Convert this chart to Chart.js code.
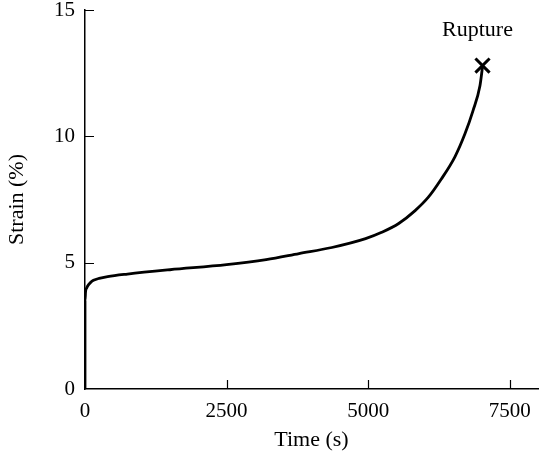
<!DOCTYPE html>
<html>
<head>
<meta charset="utf-8">
<script src="https://cdn.jsdelivr.net/npm/chart.js@4.4.1/dist/chart.umd.min.js"></script>
<style>
  html, body { margin: 0; padding: 0; background: #fff; }
  #wrap { width: 540px; height: 456px; position: relative; }
</style>
</head>
<body>
<div id="wrap"><canvas id="creep"></canvas></div>
<script>
/* creep curve */
var timeS   = [0, 0, 10, 30, 60, 100, 150, 250, 400, 750, 1500, 2500, 3200, 3780, 4360, 4955, 5240, 5540, 5830, 6060, 6290, 6535, 6710, 6850, 6975, 7020];
var strainP = [0, 3.5, 3.85, 4.0, 4.12, 4.22, 4.3, 4.38, 4.45, 4.55, 4.72, 4.92, 5.12, 5.36, 5.6, 5.95, 6.2, 6.55, 7.06, 7.58, 8.3, 9.2, 10.1, 11.0, 12.0, 12.75];
var ruptureT = [7020];
var ruptureS = [12.8];
var ruptureLabel = 'Rupture';
var xTicks = [0, 2500, 5000, 7500];
var yTicks = [0, 5, 10, 15];

var FONT = '"Liberation Serif", "Times New Roman", serif';

/* inward tick marks + rupture label */
var decor = {
  id: 'decor',
  afterDraw: function(chart) {
    var ctx = chart.ctx, x = chart.scales.x, y = chart.scales.y;
    ctx.save();
    ctx.strokeStyle = '#000';
    ctx.lineWidth = 1.2;
    ctx.beginPath();
    yTicks.forEach(function(v) {
      if (v === 0) return;
      var py = Math.round(y.getPixelForValue(v)) + 0.5;
      ctx.moveTo(x.left, py); ctx.lineTo(x.left + 9, py);
    });
    xTicks.forEach(function(v) {
      if (v === 0) return;
      var px = Math.round(x.getPixelForValue(v)) + 0.5;
      ctx.moveTo(px, y.bottom); ctx.lineTo(px, y.bottom - 9);
    });
    ctx.stroke();

    ctx.fillStyle = '#000';
    ctx.font = '22px ' + FONT;
    ctx.textAlign = 'center';
    ctx.textBaseline = 'middle';
    ctx.fillText(ruptureLabel, x.getPixelForValue(ruptureT[0]) - 5, y.getPixelForValue(ruptureS[0]) - 35);
    ctx.restore();
  }
};

new Chart(document.getElementById('creep').getContext('2d'), {
  type: 'scatter',
  data: {
    datasets: [
      {
        data: timeS.map(function(t, i) { return { x: t, y: strainP[i] }; }),
        showLine: true,
        borderColor: '#000',
        borderWidth: 2.8,
        pointRadius: 0,
        cubicInterpolationMode: 'monotone',
        fill: false
      },
      {
        data: ruptureT.map(function(t, i) { return { x: t, y: ruptureS[i] }; }),
        pointStyle: 'crossRot',
        pointRadius: 10,
        borderColor: '#000',
        borderWidth: 3,
        backgroundColor: '#000'
      }
    ]
  },
  options: {
    responsive: true,
    maintainAspectRatio: false,
    animation: false,
    layout: { autoPadding: false, padding: { top: 0, right: 0, left: 0, bottom: 0 } },
    plugins: { legend: { display: false }, tooltip: { enabled: false } },
    scales: {
      x: {
        type: 'linear',
        min: 0,
        max: 8000,
        afterBuildTicks: function(s) { s.ticks = xTicks.map(function(v) { return { value: v }; }); },
        afterFit: function(s) { s.height = 67; s.paddingRight = 2; },
        grid: { display: false, drawTicks: false },
        border: { display: true, color: '#000', width: 1.5 },
        ticks: { color: '#000', padding: 10, maxRotation: 0, font: { family: FONT, size: 21 },
                 callback: function(v) { return String(v); } },
        title: { display: true, text: 'Time (s)', color: '#000', padding: { top: 0, bottom: 3 }, font: { family: FONT, size: 22 } }
      },
      y: {
        type: 'linear',
        min: 0,
        max: 15,
        afterBuildTicks: function(s) { s.ticks = yTicks.map(function(v) { return { value: v }; }); },
        afterFit: function(s) { s.width = 85; s.paddingTop = 10; s.paddingBottom = 0; },
        grid: { display: false, drawTicks: false },
        border: { display: true, color: '#000', width: 1.5 },
        ticks: { color: '#000', padding: 10, font: { family: FONT, size: 21 } },
        title: { display: true, text: 'Strain (%)', color: '#000', padding: { top: 4, bottom: 0 }, font: { family: FONT, size: 22 } }
      }
    }
  },
  plugins: [decor]
});
</script>
</body>
</html>
